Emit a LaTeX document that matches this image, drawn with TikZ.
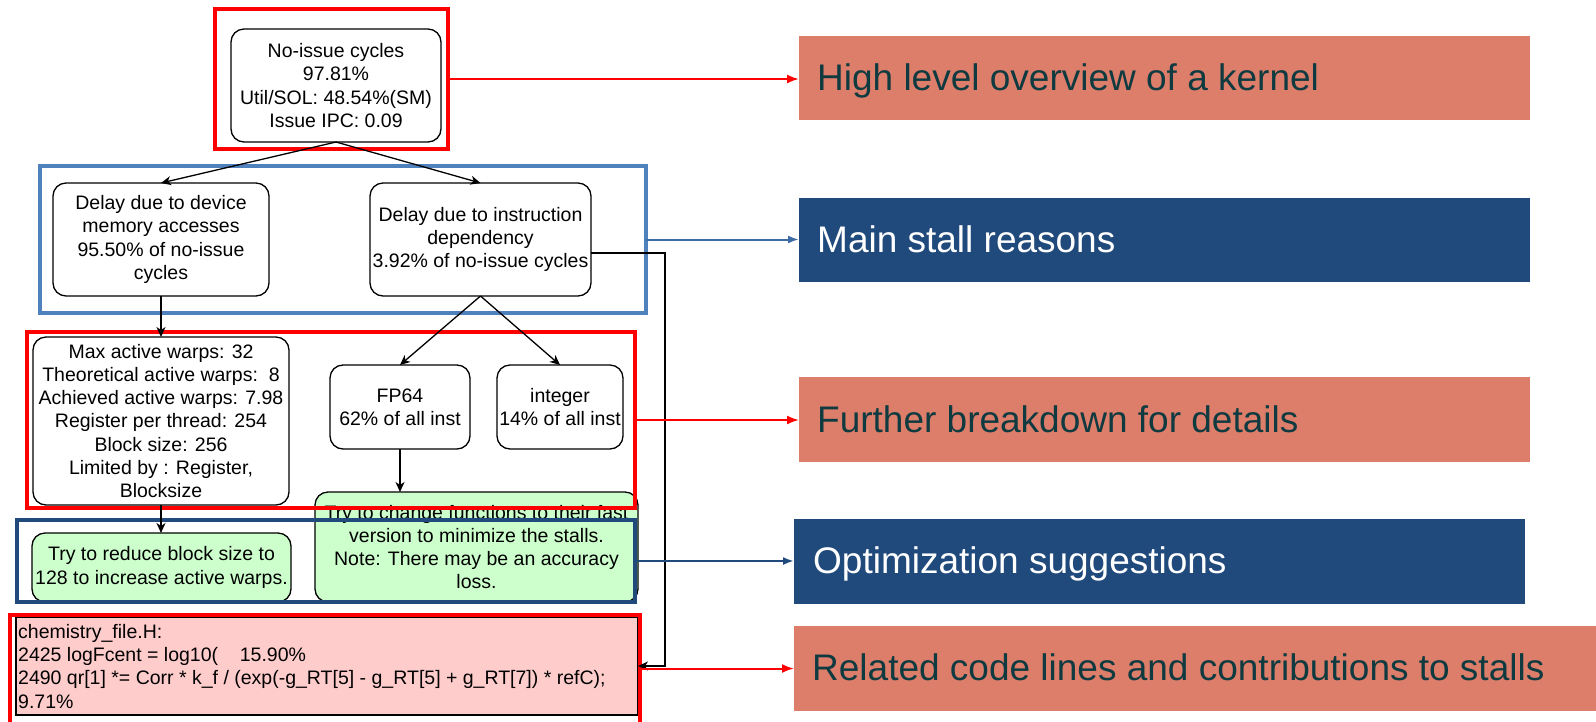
\documentclass[tikz,border=0pt]{standalone}
\usepackage{fontspec}
\setmainfont{Liberation Sans}
\usetikzlibrary{arrows.meta}

\definecolor{salmon}{HTML}{DD7E6B}
\definecolor{navy}{HTML}{214A7C}
\definecolor{steel}{HTML}{4F81BD}
\definecolor{inkteal}{HTML}{0E3A40}
\definecolor{mint}{HTML}{CCFFCC}
\definecolor{rose}{HTML}{FFCCCC}

\newcommand\dgfont{\fontsize{19.5}{23.3}\selectfont}
\newcommand\lblfont{\fontsize{37}{44}\selectfont}

\tikzset{
  box/.style={draw=black, line width=1.3pt, rounded corners=13pt, fill=white,
              align=center, font=\dgfont, inner sep=0pt, outer sep=0pt},
  hint/.style={box, fill=mint},
  codebox/.style={draw=black, line width=1.5pt, fill=rose, inner sep=0pt, outer sep=0pt},
  codetext/.style={align=left, font=\dgfont, inner sep=0pt},
  frame/.style={line width=3.5pt, inner sep=0pt, outer sep=0pt},
  lbl/.style={inner sep=0pt, outer sep=0pt, minimum height=84pt},
  lbltext/.style={font=\lblfont, inner sep=0pt, anchor=base west},
  conn/.style={draw=black, line width=1.3pt, -{Stealth[length=10pt,width=9pt,inset=3pt]}},
  redarr/.style={draw=red, line width=2pt, -{Latex[length=12pt,width=9pt]}},
  bluearr/.style={draw=steel!60!navy, line width=2pt, -{Latex[length=11pt,width=8pt]}},
  navyarr/.style={draw=navy, line width=2pt, -{Latex[length=11pt,width=8pt]}},
}

\begin{document}
\begin{tikzpicture}[x=1pt, y=-1pt]
\useasboundingbox (0,0) rectangle (1596,721);
\clip (0,0) rectangle (1596,721);
\fill[white] (0,0) rectangle (1596,721);

% ---- analysis tree ----
\node[box, minimum width=210pt, minimum height=113pt] (top) at (336,85.5)
  {No-issue cycles\\97.81\%\\Util/SOL: 48.54\%(SM)\\Issue IPC: 0.09};
\node[box, minimum width=216pt, minimum height=113pt] (dev) at (161,239.5)
  {Delay due to device\\memory accesses\\95.50\% of no-issue\\cycles};
\node[box, minimum width=221pt, minimum height=113pt] (ins) at (480.5,239.5)
  {Delay due to instruction\\dependency\\3.92\% of no-issue cycles};
\node[box, minimum width=256pt, minimum height=168pt] (maxw) at (161,421)
  {Max active warps: 32\\Theoretical active warps:\ \ 8\\Achieved active warps: 7.98\\Register per thread: 254\\Block size: 256\\Limited by : Register,\\Blocksize};
\node[box, minimum width=140pt, minimum height=84pt] (fp) at (400,407)
  {FP64\\62\% of all inst};
\node[box, minimum width=126pt, minimum height=84pt] (intg) at (560,407)
  {integer\\14\% of all inst};
\node[hint, minimum width=259pt, minimum height=69pt] (g1) at (161.5,567.5)
  {Try to reduce block size to\\128 to increase active warps.};
\node[hint, minimum width=323pt, minimum height=110pt] (g2) at (476.5,547)
  {Try to change functions to their fast\\version to minimize the stalls.\\Note: There may be an accuracy\\loss.};

% ---- source lines ----
\node[codebox, minimum width=622pt, minimum height=98pt] (code) at (327,666) {};
\node[codetext, anchor=north west] (codet) at (18,624)
  {chemistry\_file.H:\\
   2425 logFcent = log10(\ \ \ \ 15.90\%\\
   2490 qr[1] *= Corr * k\_f / (exp(-g\_RT[5] - g\_RT[5] + g\_RT[7]) * refC);\\
   9.71\%};

% ---- grouping frames (the last one runs past the lower edge) ----
\node[frame, draw=red,   minimum width=233pt, minimum height=140pt] (f1) at (331.5,79) {};
\node[frame, draw=steel, minimum width=606pt, minimum height=147pt] (f2) at (343,239.5) {};
\node[frame, draw=red,   minimum width=608pt, minimum height=176pt] (f3) at (331,420) {};
\node[frame, draw=navy,  minimum width=618pt, minimum height=82pt]  (f4) at (326,561) {};
\node[frame, draw=red,   minimum width=630pt, minimum height=130pt] (f5) at (325,680) {};

% ---- legend boxes ----
\node[lbl, fill=salmon, minimum width=731pt] (l1) at (1164.5,78) {};
\node[lbl, fill=navy,   minimum width=731pt] (l2) at (1164.5,240) {};
\node[lbl, fill=salmon, minimum width=731pt, minimum height=85pt] (l3) at (1164.5,419.5) {};
\node[lbl, fill=navy,   minimum width=731pt, minimum height=85pt] (l4) at (1159.5,561.5) {};
\node[lbl, fill=salmon, minimum width=802pt, minimum height=85pt] (l5) at (1195,668.5) {};

\node[lbltext, text=inkteal] (t1) at ([shift={(18,54)}]l1.north west) {High level overview of a kernel};
\node[lbltext, text=white]   (t2) at ([shift={(18,54)}]l2.north west) {Main stall reasons};
\node[lbltext, text=inkteal] (t3) at ([shift={(18,55)}]l3.north west) {Further breakdown for details};
\node[lbltext, text=white]   (t4) at ([shift={(19,54)}]l4.north west) {Optimization suggestions};
\node[lbltext, text=inkteal] (t5) at ([shift={(18,54)}]l5.north west) {Related code lines and contributions to stalls};

% ---- tree connectors ----
\draw[conn] (top.south) -- (dev.north);
\draw[conn] (top.south) -- (ins.north);
\draw[conn] (dev.south) -- (maxw.north);
\draw[conn] (ins.south) -- (fp.north);
\draw[conn] (ins.south) -- (intg.north);
\draw[conn] (fp.south) -- (fp.south |- g2.north);
\draw[conn] (maxw.south) -- (maxw.south |- g1.north);
\coordinate (bus) at (665,253);
\draw[conn] ([yshift=-13.5pt]ins.east) -- (bus) |- (code.east);

% ---- legend arrows ----
\draw[redarr]  (f1.east) -- (f1.east -| l1.west);
\draw[bluearr] (f2.east) -- (f2.east -| l2.west);
\draw[redarr]  (f3.east) -- (f3.east -| l3.west);
\draw[navyarr] (f4.east) -- (f4.east -| l4.west);
\draw[redarr]  (f5.east |- l5.west) -- (l5.west);
\end{tikzpicture}
\end{document}
